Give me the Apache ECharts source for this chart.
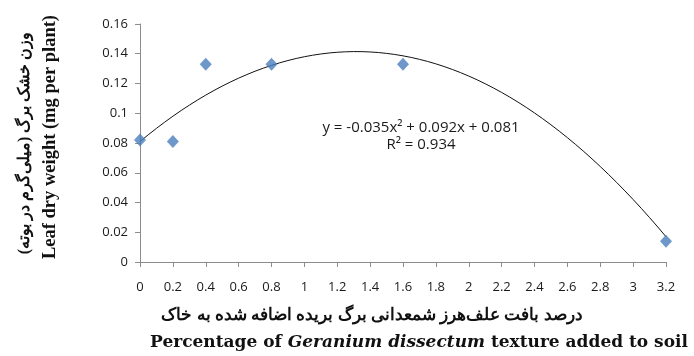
<!DOCTYPE html>
<html>
<head>
<meta charset="utf-8">
<script src="https://cdn.jsdelivr.net/npm/echarts@6/dist/echarts.min.js"></script>
<style>
  html, body { margin: 0; padding: 0; background: #fff; }
  #chart { width: 694px; height: 356px; }
</style>
</head>
<body>
<div id="chart"></div>
<script>
// Leaf dry weight vs. percentage of Geranium dissectum texture added to soil
const xValues = [0, 0.2, 0.4, 0.8, 1.6, 3.2];
const leafWeight = [0.082, 0.081, 0.133, 0.133, 0.133, 0.014];
// Quadratic trendline y = a*x^2 + b*x + c, as printed on the chart
const trendCoeffs = [-0.035, 0.092, 0.081];
const trendLabel = ['y = -0.035x² + 0.092x + 0.081', 'R² = 0.934'];
const yTitleFa = 'وزن خشک برگ (میلی‌گرم در بوته)';
const yTitleEn = 'Leaf dry weight (mg per plant)';
const xTitleFa = 'درصد بافت علف‌هرز شمعدانی برگ بریده اضافه شده به خاک';

const points = xValues.map((x, i) => [x, leafWeight[i]]);
const trend = [];
for (let i = 0; i <= 64; i++) {
  const x = 3.2 * i / 64;
  trend.push([x, trendCoeffs[0] * x * x + trendCoeffs[1] * x + trendCoeffs[2]]);
}

const chart = echarts.init(document.getElementById('chart'));
const labelFont = '"Open Sans", "Liberation Sans", sans-serif';
chart.setOption({
  animation: false,
  grid: { left: 140, right: 28, top: 24, bottom: 94 },
  xAxis: {
    type: 'value', min: 0, max: 3.2, interval: 0.2,
    axisLine: { lineStyle: { color: '#8c8c8c', width: 1 } },
    axisTick: { show: true, length: 5, lineStyle: { color: '#8c8c8c' } },
    splitLine: { show: false },
    axisLabel: { margin: 19, fontSize: 13, color: '#1a1a1a', fontFamily: labelFont,
      formatter: v => String(Math.round(v * 10) / 10) }
  },
  yAxis: {
    type: 'value', min: 0, max: 0.16, interval: 0.02,
    axisLine: { show: true, lineStyle: { color: '#8c8c8c', width: 1 } },
    axisTick: { show: true, length: 5, lineStyle: { color: '#8c8c8c' } },
    splitLine: { show: false },
    axisLabel: { margin: 12, fontSize: 13, color: '#1a1a1a', fontFamily: labelFont,
      formatter: v => String(Math.round(v * 100) / 100) }
  },
  series: [
    {
      type: 'line', data: trend, showSymbol: false, smooth: false,
      lineStyle: { color: '#111', width: 1 }, z: 2
    },
    {
      type: 'scatter', data: points, symbol: 'diamond', symbolSize: [12, 13],
      itemStyle: { color: '#4a7ebb' }, z: 3
    }
  ],
  graphic: [
    { type: 'text', x: 421, y: 119,
      style: { text: trendLabel.join('\n'), lineHeight: 17,
        fontSize: 15, fontFamily: labelFont, fill: '#1a1a1a', textAlign: 'center' } },
    { type: 'text', x: 25, y: 143, rotation: Math.PI / 2,
      style: { text: yTitleFa, textAlign: 'center', textVerticalAlign: 'middle',
        font: 'bold 16px "Liberation Serif", "DejaVu Serif", serif', fill: '#111' } },
    { type: 'text', x: 50, y: 137, rotation: Math.PI / 2,
      style: { text: yTitleEn, textAlign: 'center', textVerticalAlign: 'middle',
        font: 'bold 18.5px "Liberation Serif", serif', fill: '#111' } },
    { type: 'text', x: 372, y: 316,
      style: { text: xTitleFa, textAlign: 'center', textVerticalAlign: 'middle',
        font: 'bold 17px "Liberation Serif", "DejaVu Serif", serif', fill: '#111' } },
    { type: 'text', x: 419, y: 343,
      style: {
        text: '{b|Percentage of }{i|Geranium dissectum}{b| texture added to soil}',
        textAlign: 'center', textVerticalAlign: 'middle',
        rich: {
          b: { font: 'bold 17px "DejaVu Serif", serif', fill: '#111' },
          i: { font: 'italic bold 17px "DejaVu Serif", serif', fill: '#111' }
        }
      } }
  ]
});
</script>
</body>
</html>
